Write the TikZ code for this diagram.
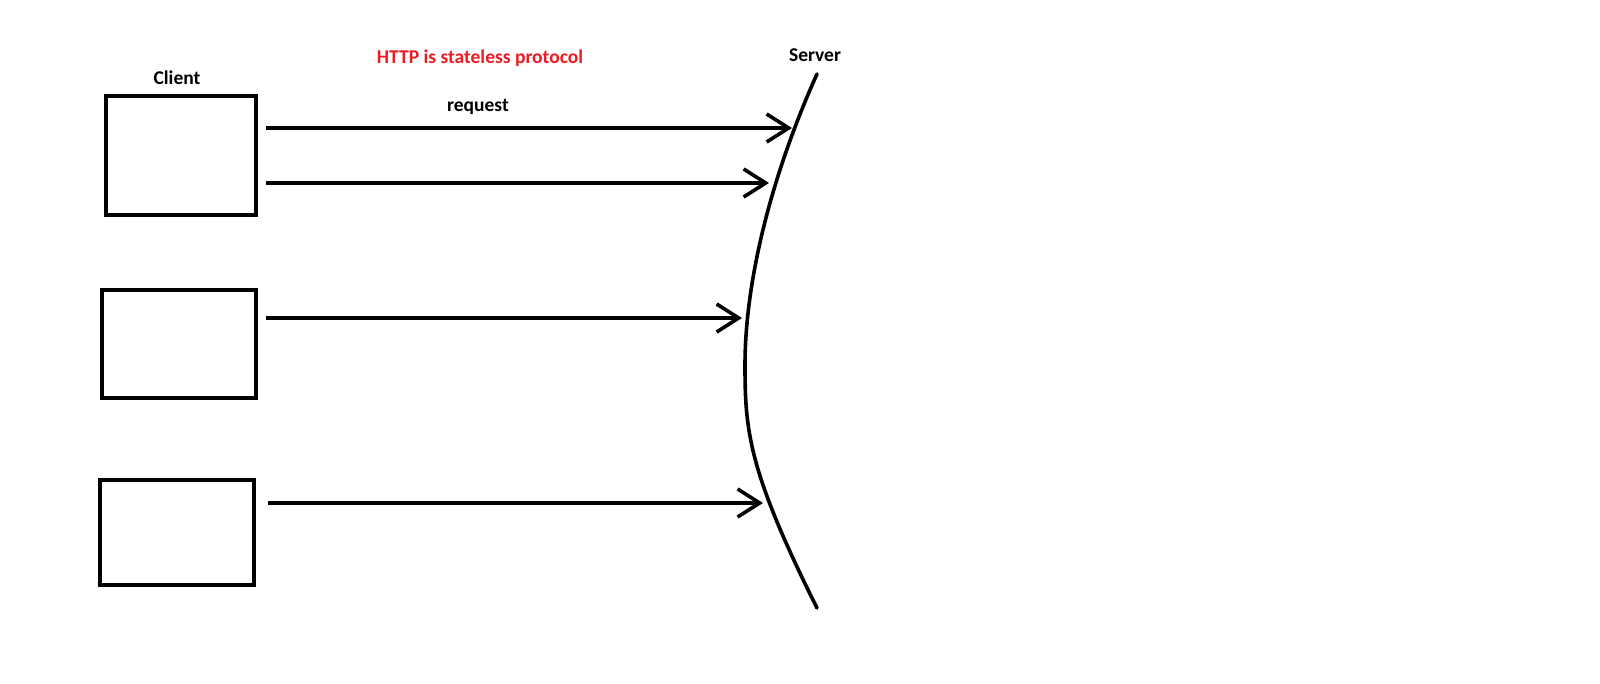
\documentclass[tikz,border=0pt]{standalone}
\usepackage{fontspec}
\setmainfont{Carlito}
\usetikzlibrary{arrows.meta}
\definecolor{httpred}{RGB}{237,28,36}
\begin{document}
\begin{tikzpicture}[x=1pt,y=-1pt,
  box/.style={draw,line width=3.8pt,inner sep=0pt},
  req/.style={line width=3.6pt,-{Straight Barb[length=22pt,width=28pt]}},
  lbl/.style={font=\bfseries\fontsize{19.5}{22}\selectfont,inner sep=0pt}]
\useasboundingbox (0,0) rectangle (1600,684);
\fill[white] (0,0) rectangle (1600,684);
\node[box,minimum width=150pt,minimum height=119pt] (b1) at (181,155.5) {};
\node[box,minimum width=154pt,minimum height=108pt] (b2) at (179,344) {};
\node[box,minimum width=154pt,minimum height=105pt] (b3) at (177,532.5) {};
\node[lbl] (client) at (177,78) {Client};
\node[lbl,text=httpred] (title) at (480,58) {HTTP is stateless protocol};
\node[lbl] (server) at (815,55) {Server};
\node[lbl] (reqlbl) at (478,107) {request};
\draw[line width=3.6pt,line cap=round] (817,74) .. controls (772,174) and (745,280) .. (745,365) .. controls (745,430) and (748,470) .. (817,608);
\coordinate (s1) at (266,128); \coordinate (t1) at (792,128);
\coordinate (s2) at (266,183); \coordinate (t2) at (769,183);
\coordinate (s3) at (266,318); \coordinate (t3) at (742,318);
\coordinate (s4) at (268,503); \coordinate (t4) at (763,503);
\draw[req] (s1) -- (t1);
\draw[req] (s2) -- (t2);
\draw[req] (s3) -- (t3);
\draw[req] (s4) -- (t4);
\end{tikzpicture}
\end{document}
